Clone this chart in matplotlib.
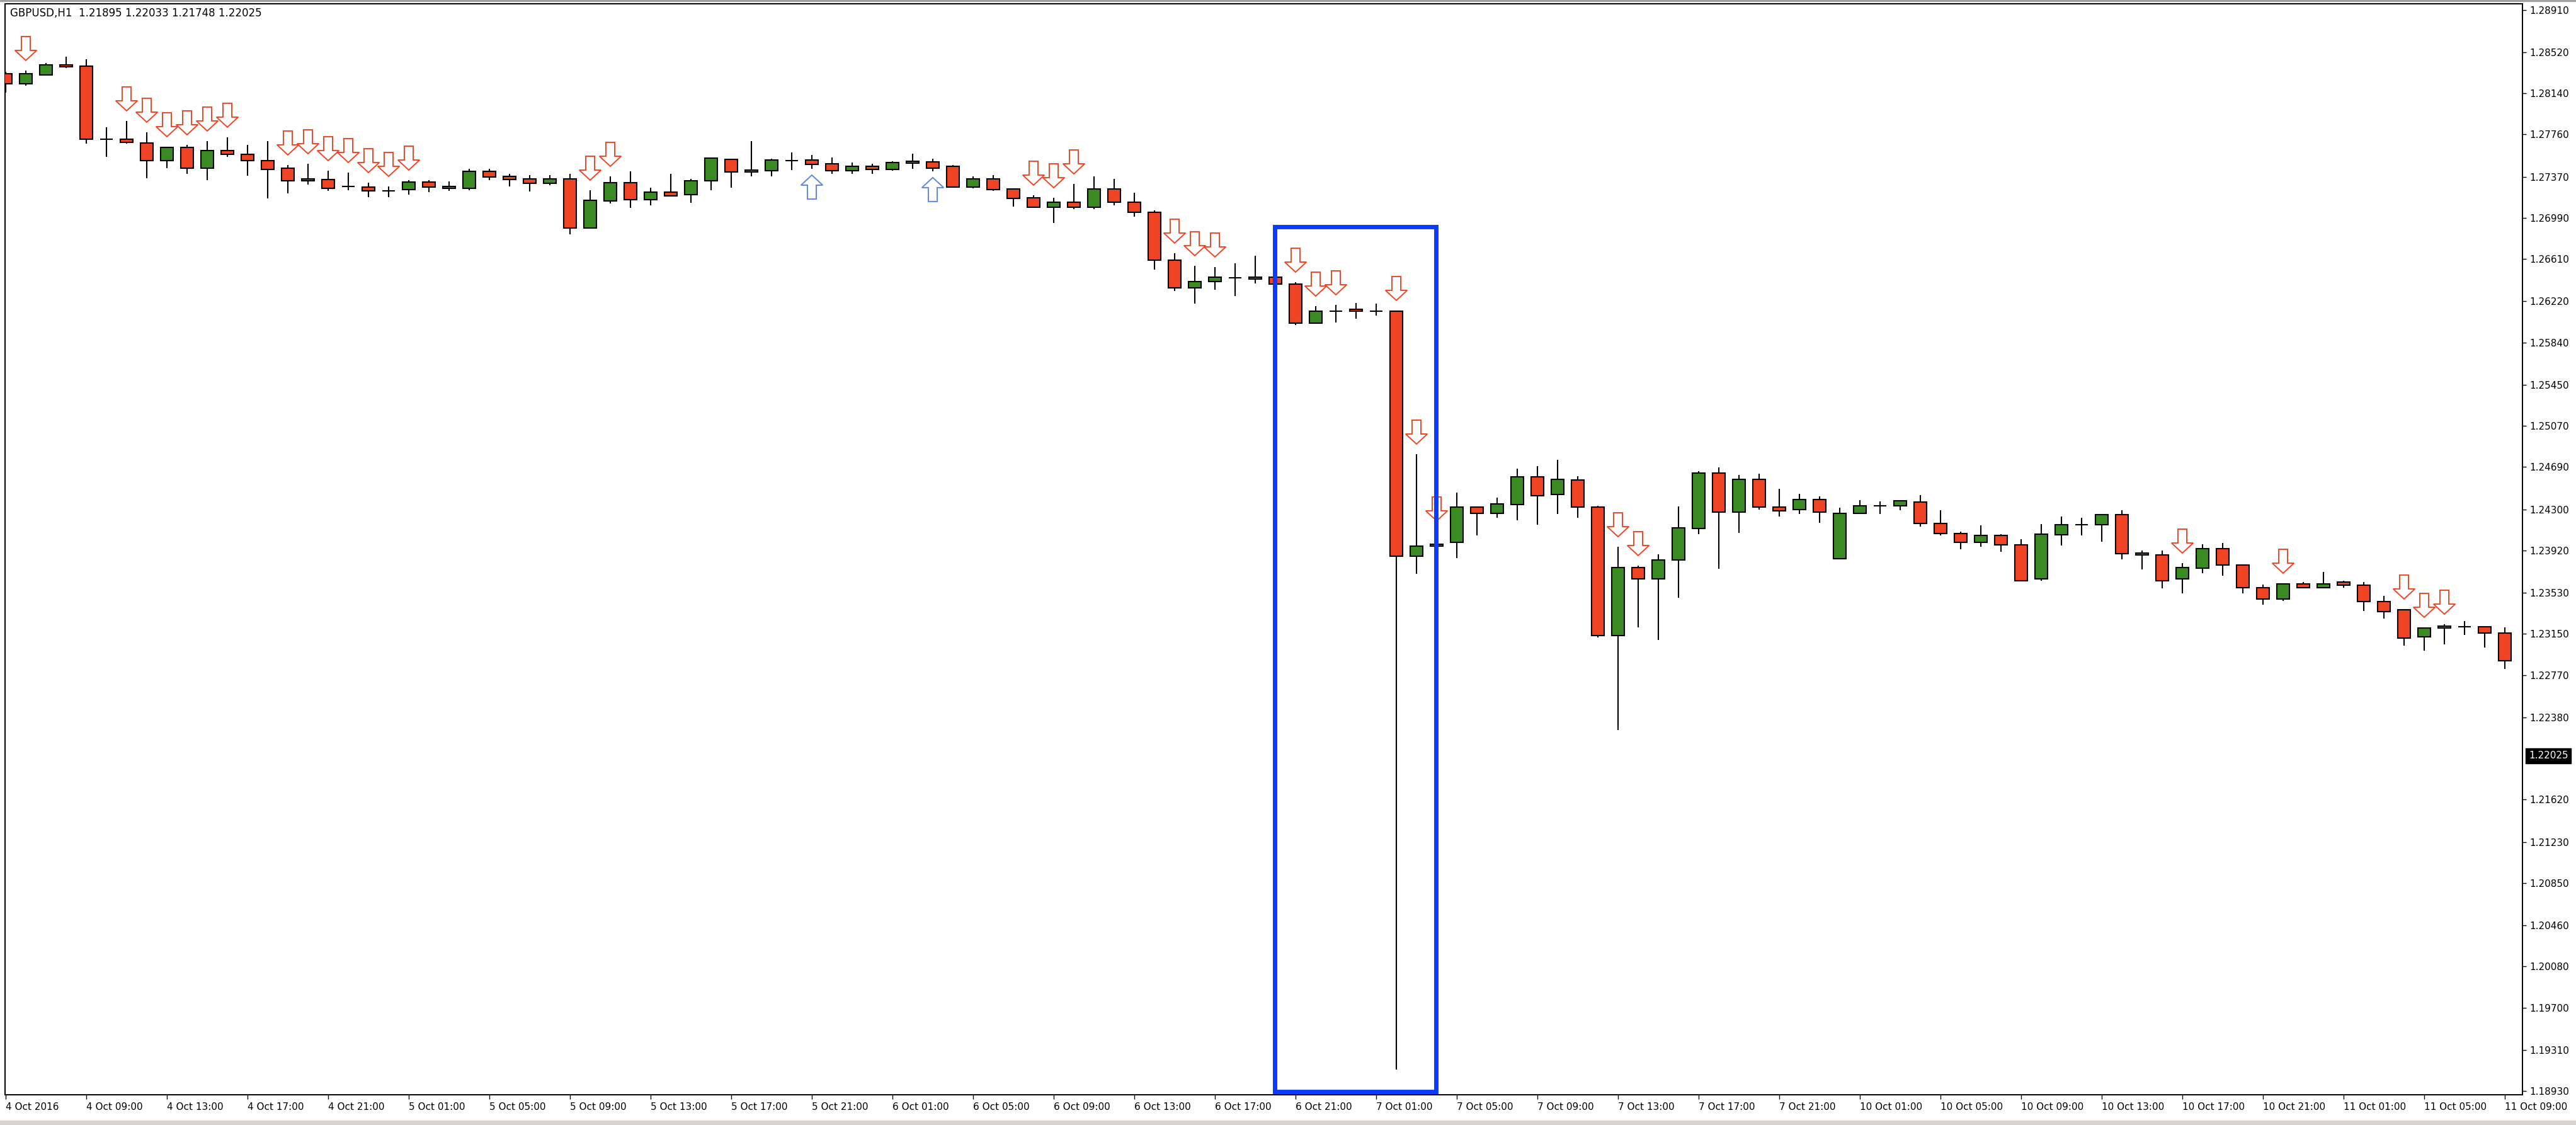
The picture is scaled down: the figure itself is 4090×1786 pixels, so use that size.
import numpy as np
import matplotlib
matplotlib.use('Agg')
import matplotlib.pyplot as plt
import matplotlib.transforms as mtransforms
from matplotlib.patches import Polygon, Rectangle

plt.rcParams['font.family'] = ['DejaVu Sans']

# GBPUSD H1, 4 Oct 05:00 .. 11 Oct 09:00 (one bar per hour, weekend skipped)
opens = [1.28321, 1.28228, 1.28309, 1.28402, 1.28391, 1.27716, 1.27716, 1.27681, 1.27518, 1.27641,
         1.27449, 1.27612, 1.27577, 1.27518, 1.27449, 1.27350, 1.27344, 1.27280, 1.27274, 1.27239,
         1.27251, 1.27321, 1.27280, 1.27263, 1.27420, 1.27373, 1.27350, 1.27309, 1.27350, 1.26896,
         1.27146, 1.27315, 1.27158, 1.27228, 1.27204, 1.27332, 1.27530, 1.27431, 1.27425, 1.27518,
         1.27524, 1.27489, 1.27425, 1.27466, 1.27437, 1.27513, 1.27507, 1.27466, 1.27274, 1.27350,
         1.27257, 1.27175, 1.27088, 1.27135, 1.27088, 1.27257, 1.27135, 1.27042, 1.26600, 1.26344,
         1.26402, 1.26437, 1.26443, 1.26443, 1.26379, 1.26018, 1.26129, 1.26146, 1.26129, 1.26129,
         1.23867, 1.23960, 1.23995, 1.24321, 1.24263, 1.24344, 1.24600, 1.24437, 1.24571, 1.24321,
         1.23135, 1.23763, 1.23658, 1.23832, 1.24123, 1.24635, 1.24274, 1.24577, 1.24321, 1.24298,
         1.24391, 1.23844, 1.24263, 1.24332, 1.24332, 1.24367, 1.24170, 1.24077, 1.23995, 1.24059,
         1.23972, 1.23658, 1.24065, 1.24158, 1.24158, 1.24251, 1.23896, 1.23879, 1.23658, 1.23757,
         1.23937, 1.23786, 1.23577, 1.23472, 1.23611, 1.23577, 1.23629, 1.23600, 1.23449, 1.23373,
         1.23123, 1.23222, 1.23216, 1.23216, 1.23158]
highs = [1.28338, 1.28350, 1.28420, 1.28478, 1.28455, 1.27827, 1.27885, 1.27780, 1.27646, 1.27664,
         1.27699, 1.27734, 1.27664, 1.27699, 1.27478, 1.27489, 1.27425, 1.27408, 1.27315, 1.27280,
         1.27338, 1.27338, 1.27327, 1.27443, 1.27443, 1.27396, 1.27385, 1.27385, 1.27396, 1.27245,
         1.27373, 1.27420, 1.27268, 1.27396, 1.27350, 1.27548, 1.27536, 1.27699, 1.27536, 1.27594,
         1.27571, 1.27548, 1.27501, 1.27489, 1.27513, 1.27582, 1.27536, 1.27478, 1.27373, 1.27385,
         1.27263, 1.27199, 1.27175, 1.27303, 1.27373, 1.27350, 1.27222, 1.27059, 1.26664, 1.26548,
         1.26536, 1.26571, 1.26641, 1.26455, 1.26396, 1.26175, 1.26187, 1.26205, 1.26199, 1.26135,
         1.24809, 1.24100, 1.24455, 1.24327, 1.24408, 1.24675, 1.24699, 1.24757, 1.24606, 1.24332,
         1.23954, 1.23780, 1.23885, 1.24327, 1.24652, 1.24687, 1.24617, 1.24629, 1.24489, 1.24443,
         1.24420, 1.24315, 1.24385, 1.24373, 1.24385, 1.24431, 1.24292, 1.24094, 1.24152, 1.24071,
         1.24024, 1.24164, 1.24234, 1.24222, 1.24257, 1.24292, 1.23920, 1.23920, 1.23803, 1.23978,
         1.23989, 1.23792, 1.23606, 1.23617, 1.23629, 1.23722, 1.23641, 1.23629, 1.23501, 1.23379,
         1.23210, 1.23239, 1.23268, 1.23222, 1.23210]
lows = [1.28146, 1.28210, 1.28303, 1.28373, 1.27675, 1.27553, 1.27675, 1.27356, 1.27449, 1.27396,
        1.27338, 1.27553, 1.27379, 1.27170, 1.27216, 1.27298, 1.27239, 1.27245, 1.27181, 1.27181,
        1.27204, 1.27228, 1.27239, 1.27245, 1.27338, 1.27280, 1.27234, 1.27292, 1.26838, 1.26891,
        1.27123, 1.27082, 1.27106, 1.27187, 1.27129, 1.27245, 1.27268, 1.27373, 1.27373, 1.27431,
        1.27443, 1.27396, 1.27396, 1.27396, 1.27425, 1.27443, 1.27420, 1.27268, 1.27263, 1.27239,
        1.27094, 1.27082, 1.26943, 1.27071, 1.27071, 1.27106, 1.27001, 1.26513, 1.26315, 1.26199,
        1.26327, 1.26268, 1.26385, 1.26367, 1.26001, 1.26013, 1.26024, 1.26059, 1.26088, 1.19129,
        1.23704, 1.23943, 1.23850, 1.24059, 1.24222, 1.24199, 1.24158, 1.24257, 1.24222, 1.23117,
        1.22263, 1.23210, 1.23094, 1.23484, 1.24071, 1.23751, 1.24082, 1.24298, 1.24234, 1.24257,
        1.24175, 1.23838, 1.24257, 1.24257, 1.24292, 1.24141, 1.24059, 1.23931, 1.23954, 1.23908,
        1.23635, 1.23641, 1.23966, 1.24059, 1.24001, 1.23838, 1.23745, 1.23571, 1.23524, 1.23710,
        1.23687, 1.23524, 1.23420, 1.23454, 1.23571, 1.23571, 1.23577, 1.23361, 1.23292, 1.23042,
        1.22995, 1.23053, 1.23141, 1.23024, 1.22827]
closes = [1.28228, 1.28321, 1.28402, 1.28385, 1.27716, 1.27716, 1.27687, 1.27518, 1.27641, 1.27449,
          1.27612, 1.27577, 1.27518, 1.27437, 1.27332, 1.27332, 1.27263, 1.27280, 1.27239, 1.27239,
          1.27321, 1.27274, 1.27263, 1.27420, 1.27367, 1.27344, 1.27309, 1.27350, 1.26896, 1.27152,
          1.27315, 1.27158, 1.27228, 1.27193, 1.27332, 1.27542, 1.27414, 1.27414, 1.27524, 1.27518,
          1.27484, 1.27425, 1.27466, 1.27437, 1.27501, 1.27495, 1.27449, 1.27274, 1.27350, 1.27251,
          1.27170, 1.27088, 1.27135, 1.27088, 1.27257, 1.27135, 1.27042, 1.26600, 1.26344, 1.26402,
          1.26443, 1.26437, 1.26425, 1.26379, 1.26018, 1.26129, 1.26129, 1.26129, 1.26129, 1.23867,
          1.23960, 1.23978, 1.24321, 1.24263, 1.24350, 1.24600, 1.24425, 1.24577, 1.24321, 1.23135,
          1.23763, 1.23658, 1.23832, 1.24129, 1.24635, 1.24274, 1.24577, 1.24321, 1.24286, 1.24391,
          1.24274, 1.24263, 1.24332, 1.24332, 1.24379, 1.24170, 1.24077, 1.23995, 1.24059, 1.23972,
          1.23641, 1.24071, 1.24158, 1.24158, 1.24251, 1.23890, 1.23879, 1.23641, 1.23763, 1.23937,
          1.23786, 1.23577, 1.23472, 1.23611, 1.23577, 1.23611, 1.23600, 1.23449, 1.23356, 1.23111,
          1.23204, 1.23204, 1.23216, 1.23158, 1.22902]

# signal arrows (bar indices)
sell_bars = [1, 6, 7, 8, 9, 10, 11, 14, 15, 16, 17, 18, 19, 20, 29, 30, 51, 52, 53,
             58, 59, 60, 64, 65, 66, 69, 70, 71, 80, 81, 108, 113, 119, 120, 121]
buy_bars = [40, 46]

# x axis labels, every 4th bar
xtick_bars = list(range(0, 125, 4))
xtick_labels = ['4 Oct 2016', '4 Oct 09:00', '4 Oct 13:00', '4 Oct 17:00', '4 Oct 21:00',
                '5 Oct 01:00', '5 Oct 05:00', '5 Oct 09:00', '5 Oct 13:00', '5 Oct 17:00',
                '5 Oct 21:00', '6 Oct 01:00', '6 Oct 05:00', '6 Oct 09:00', '6 Oct 13:00',
                '6 Oct 17:00', '6 Oct 21:00', '7 Oct 01:00', '7 Oct 05:00', '7 Oct 09:00',
                '7 Oct 13:00', '7 Oct 17:00', '7 Oct 21:00', '10 Oct 01:00', '10 Oct 05:00',
                '10 Oct 09:00', '10 Oct 13:00', '10 Oct 17:00', '10 Oct 21:00', '11 Oct 01:00',
                '11 Oct 05:00', '11 Oct 09:00']
price_ticks = [1.28910, 1.28520, 1.28140, 1.27760, 1.27370, 1.26990, 1.26610, 1.26220, 1.25840,
               1.25450, 1.25070, 1.24690, 1.24300, 1.23920, 1.23530, 1.23150, 1.22770, 1.22380,
               1.21620, 1.21230, 1.20850, 1.20460, 1.20080, 1.19700, 1.19310, 1.18930]
last_price = 1.22025
header = 'GBPUSD,H1  1.21895 1.22033 1.21748 1.22025'

# highlighted flash crash window (bar positions, prices)
box_bars = (62.97, 70.97)
box_prices = (1.18925, 1.26908)

bull = '#3B8B24'
bear = '#EE4423'

W, H = 4090, 1786
fig = plt.figure(figsize=(W / 100, H / 100), dpi=100)
fig.patch.set_facecolor('white')
ax = fig.add_axes([7.5 / W, 48 / H, (4005 - 7.5) / W, (1738 - 6) / H])
ax.set_xlim(-0.047, 124.875)
ax.set_ylim(1.18896, 1.28966)

x = np.arange(len(opens))
o = np.array(opens)
h = np.array(highs)
l = np.array(lows)
c = np.array(closes)
cols = np.where(c >= o, bull, bear)

ax.vlines(x, l, h, color='black', lw=1.5, zorder=2)
ax.bar(x, np.abs(c - o), bottom=np.minimum(o, c), width=0.62, color=cols,
       edgecolor='black', linewidth=1.5, zorder=3)

# arrow geometry: bar units across, price units up
py = (1.28966 - 1.18896) / 1732.0
gap, head, shaft = 16 * py, 16 * py, 22 * py
hw, sw = 0.54, 0.22
for i in sell_bars:
    t = highs[i] + gap
    pts = [(i, t), (i - hw, t + head), (i - sw, t + head), (i - sw, t + head + shaft),
           (i + sw, t + head + shaft), (i + sw, t + head), (i + hw, t + head)]
    ax.add_patch(Polygon(pts, closed=True, fc='white', ec='#F04522', lw=1.4, zorder=4))
for i in buy_bars:
    t = lows[i] - 10 * py
    pts = [(i, t), (i - hw, t - head), (i - sw, t - head), (i - sw, t - head - shaft),
           (i + sw, t - head - shaft), (i + sw, t - head), (i + hw, t - head)]
    ax.add_patch(Polygon(pts, closed=True, fc='white', ec='#5B86E6', lw=1.4, zorder=4))

ax.add_patch(Rectangle((box_bars[0], box_prices[0]), box_bars[1] - box_bars[0],
                       box_prices[1] - box_prices[0], fill=False, ec='#0B3BFF',
                       lw=5, zorder=6))

for s in ax.spines.values():
    s.set_linewidth(1.4)
    s.set_color('black')

ax.set_xticks(xtick_bars)
ax.set_xticklabels(xtick_labels, ha='left', fontsize=11)
ax.tick_params(axis='x', direction='out', length=5, width=1.0, pad=4)
ax.yaxis.tick_right()
ax.set_yticks(price_ticks)
ax.set_yticklabels(['%.5f' % v for v in price_ticks], fontsize=11)
ax.tick_params(axis='y', direction='out', length=4.5, width=1.0, pad=4)

trans = mtransforms.blended_transform_factory(ax.transAxes, ax.transData)
ax.text(1 + 10 / 3998, last_price, '%.5f' % last_price, transform=trans, ha='left',
        va='center', color='white', fontsize=11,
        bbox=dict(boxstyle='square,pad=0.3', fc='black', ec='black'))

fig.text(16 / W, 1 - 12 / H, header, ha='left', va='top', fontsize=12)

fig.add_artist(Rectangle((0, 0), 1, 7 / H, transform=fig.transFigure, color='#D6D3CE', zorder=0))
fig.add_artist(Rectangle((0, 1 - 2 / H), 1, 2 / H, transform=fig.transFigure, color='#A0A0A0'))

fig.savefig('out.png', dpi=100)
